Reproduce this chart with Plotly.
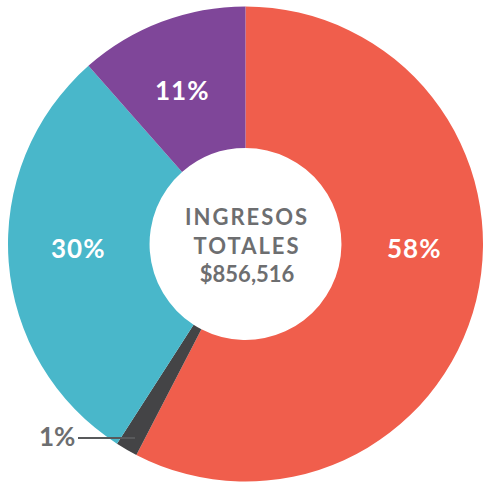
import plotly.graph_objects as go

categories = ["Rojo", "Gris", "Turquesa", "Morado"]
values = [57.6, 1.5, 29.4, 11.5]
pct_labels = ["58%", "1%", "30%", "11%"]
colors = ["#F05E4C", "#444446", "#49B7CA", "#7F4699"]
center_lines = ["INGRESOS", "TOTALES", "$856,516"]

W, H = 483, 487
fig = go.Figure(go.Pie(
    labels=categories,
    values=values,
    sort=False,
    direction="clockwise",
    rotation=0,
    hole=0.404,
    marker=dict(colors=colors, line=dict(width=0)),
    textinfo="none",
    hoverinfo="skip",
    showlegend=False,
    domain=dict(x=[8 / W, 1], y=[5.5 / H, 480.5 / H]),
))

font_family = "Lato, 'Open Sans', sans-serif"
anns = []
label_pos = {0: (414, 248), 2: (78, 248), 3: (182, 90)}
for i, (px, py) in label_pos.items():
    anns.append(dict(x=px / W, y=1 - py / H, xref="paper", yref="paper",
                     xanchor="center", yanchor="middle",
                     text=f"<b><span style='letter-spacing:1px'>{pct_labels[i]}</span></b>",
                     showarrow=False,
                     font=dict(family=font_family, size=26, color="white")))
anns.append(dict(x=57 / W, y=1 - 436 / H, xref="paper", yref="paper",
                 xanchor="center", yanchor="middle",
                 text=f"<b>{pct_labels[1]}</b>", showarrow=False,
                 font=dict(family=font_family, size=26, color="#6D6E70")))
center_text = "<br>".join(
    f"<span style='letter-spacing:2px'>{s}</span>" if s.isalpha() else s
    for s in center_lines)
anns.append(dict(x=247 / W, y=1 - 245 / H, xref="paper", yref="paper",
                 xanchor="center", yanchor="middle",
                 text="<b>" + center_text + "</b>", showarrow=False,
                 align="center",
                 font=dict(family=font_family, size=22, color="#6D6E70")))

fig.update_layout(
    width=W, height=H,
    margin=dict(l=0, r=0, t=0, b=0),
    paper_bgcolor="white", plot_bgcolor="white",
    annotations=anns,
    shapes=[dict(type="line", xref="paper", yref="paper",
                 x0=78 / W, x1=135 / W, y0=1 - 438 / H, y1=1 - 438 / H,
                 line=dict(color="#58595B", width=2.2), layer="above")],
)
fig.write_html("out.html",
               config={"displayModeBar": False},
               post_script="document.body.style.margin='0';document.body.style.overflow='hidden';")
